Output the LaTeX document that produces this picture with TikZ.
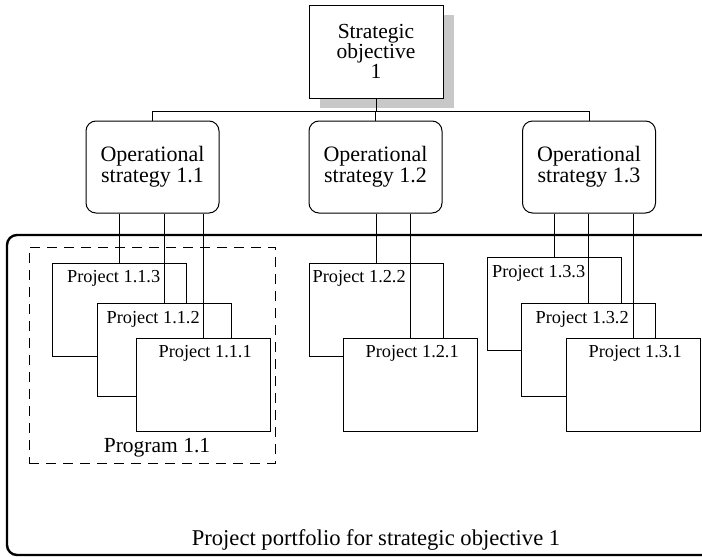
\documentclass[tikz,border=0pt]{standalone}
\usepackage{fontspec}
\setmainfont{Liberation Serif}
\usetikzlibrary{shadows}

\definecolor{shadowgray}{RGB}{200,200,200}

\begin{document}
\begin{tikzpicture}[x=1pt,y=-1pt,
  box/.style={draw, line width=1pt, fill=white, minimum width=134pt,
    minimum height=93pt, inner sep=0pt, align=center},
  topbox/.style={box, font=\fontsize{21.5}{20}\selectfont,
    drop shadow={shadow xshift=11pt, shadow yshift=-10pt,
      fill=shadowgray, opacity=1}},
  opbox/.style={box, minimum width=133pt, minimum height=92pt,
    rounded corners=10pt, font=\fontsize{22}{21}\selectfont},
  projbox/.style={box},
  projtext/.style={anchor=base west, inner sep=0pt,
    font=\fontsize{18.3}{20}\selectfont},
  link/.style={line width=1pt},
  groupbox/.style={draw, dashed, dash pattern=on 10pt off 7pt,
    line width=1pt, minimum width=246pt, minimum height=216pt},
  framebox/.style={draw, line width=2.4pt, rounded corners=10pt,
    minimum width=713pt, minimum height=320pt},
  caption/.style={inner sep=0pt, font=\fontsize{21.5}{24}\selectfont}
]
\useasboundingbox (0,0) rectangle (702,557);
\clip (0,0) rectangle (702,557);

% strategic objective and operational strategies
\node[topbox] (so) at (376,51.5) {Strategic\\objective\\1};
\node[opbox] (op11) at (152.5,167) {Operational\\strategy 1.1};
\node[opbox] (op12) at (375.5,167) {Operational\\strategy 1.2};
\node[opbox] (op13) at (589,167) {Operational\\strategy 1.3};

\coordinate (bus) at (0,111);
\draw[link] (so.south) -- (so.south |- bus);
\draw[link] (op11.north) -- (op11.north |- bus) -- (op13.north |- bus) -- (op13.north);
\draw[link] (op12.north) -- (op12.north |- bus);

% portfolio frame and program group
\node[framebox] (pf) at (363.5,395) {};
\node[groupbox] (prog) at (152,355) {};
\node[caption] (progl) at (157,448) {Program 1.1};
\node[caption, font=\fontsize{22.6}{24}\selectfont] (pfl) at (376,540)
  {Project portfolio for strategic objective 1};

% projects, back to front
\node[projbox] (p113) at (119.5,309.5) {};
\node[projtext] at ([xshift=15pt,yshift=-20pt]p113.north west) {Project 1.1.3};
\node[projbox] (p112) at (164,350) {};
\node[projtext] at ([xshift=10pt,yshift=-20pt]p112.north west) {Project 1.1.2};
\node[projbox] (p111) at (203,384.5) {};
\node[projtext] at ([xshift=23pt,yshift=-20pt]p111.north west) {Project 1.1.1};

\node[projbox] (p122) at (376,309.5) {};
\node[projtext] at ([xshift=4pt,yshift=-20pt]p122.north west) {Project 1.2.2};
\node[projbox] (p121) at (410,384.5) {};
\node[projtext] at ([xshift=23pt,yshift=-20pt]p121.north west) {Project 1.2.1};

\node[projbox] (p133) at (554.5,304) {};
\node[projtext] at ([xshift=5pt,yshift=-20pt]p133.north west) {Project 1.3.3};
\node[projbox] (p132) at (588,350) {};
\node[projtext] at ([xshift=15pt,yshift=-20pt]p132.north west) {Project 1.3.2};
\node[projbox] (p131) at (633,384.5) {};
\node[projtext] at ([xshift=23pt,yshift=-20pt]p131.north west) {Project 1.3.1};

% links from strategies to their projects
\foreach \p in {p113,p112,p111}
  \draw[link] (\p.north) -- (\p.north |- op11.south);
\foreach \p in {p122,p121}
  \draw[link] (\p.north) -- (\p.north |- op12.south);
\foreach \p in {p133,p132,p131}
  \draw[link] (\p.north) -- (\p.north |- op13.south);
\end{tikzpicture}
\end{document}
